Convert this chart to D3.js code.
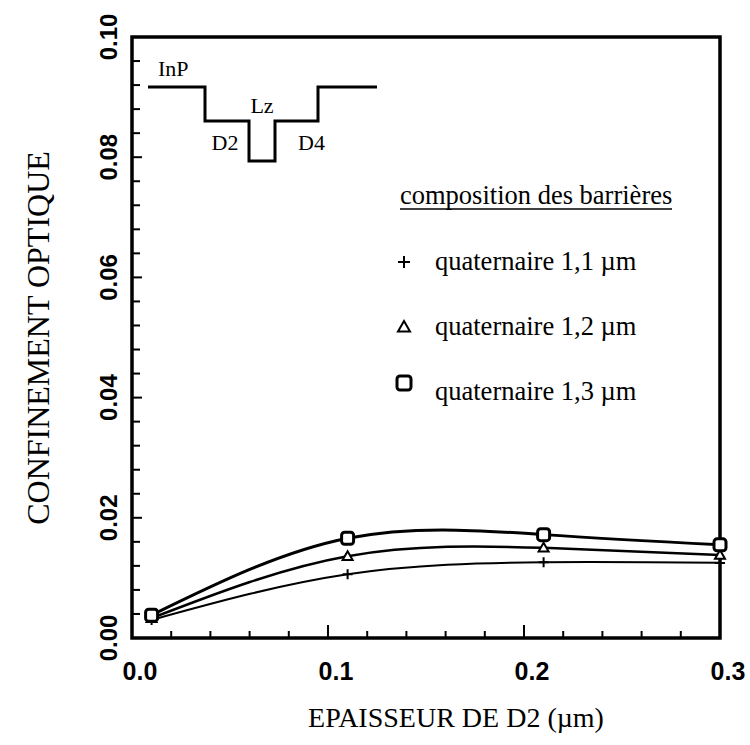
<!DOCTYPE html>
<html><head><meta charset="utf-8">
<script src="https://cdn.jsdelivr.net/npm/d3@7"></script>
<style>body{margin:0;background:#fff}svg{display:block}</style>
</head><body><div id="chart"></div>
<script>
// ---- data ----
const xValues = [0.01, 0.11, 0.21, 0.30];
const plusValues = [0.0030, 0.0106, 0.0126, 0.0125];      // quaternaire 1,1 µm
const triangleValues = [0.0033, 0.0136, 0.0150, 0.0138];  // quaternaire 1,2 µm
const squareValues = [0.0038, 0.0166, 0.0172, 0.0155];    // quaternaire 1,3 µm
const seriesNames = ["quaternaire 1,1 \u00b5m", "quaternaire 1,2 \u00b5m", "quaternaire 1,3 \u00b5m"];
const seriesSymbols = ["plus", "triangle", "square"];
const xTickValues = [0.0, 0.1, 0.2, 0.3];
const xTickLabels = ["0.0", "0.1", "0.2", "0.3"];
const yTickValues = [0.00, 0.02, 0.04, 0.06, 0.08, 0.10];
const yTickLabels = ["0.00", "0.02", "0.04", "0.06", "0.08", "0.10"];
const legendTitle = "composition des barri\u00e8res";
const xTitle = "EPAISSEUR DE D2 (\u00b5m)";
const yTitle = "CONFINEMENT OPTIQUE";
// inset band profile: layer boundaries (arbitrary thickness units) and levels
const insetBounds = [0, 57, 101, 127, 170, 229];
const insetLevels = [74, 40, 0, 40, 74];
const insetLabels = ["InP", "D2", "Lz", "D4"];

// ---- layout ----
const W = 750, H = 745;
const L = 132, R = 720, T = 37, B = 638;
const svg = d3.select("#chart").append("svg").attr("width", W).attr("height", H);
const x = d3.scaleLinear().domain([0, 0.3]).range([L, R]);
const y = d3.scaleLinear().domain([0, 0.1]).range([B, T]);
const serif = "'Liberation Serif', 'Times New Roman', serif";
const sans = "'Liberation Sans', Arial, sans-serif";

// frame
svg.append("rect").attr("x", L).attr("y", T).attr("width", R - L).attr("height", B - T)
  .attr("fill", "none").attr("stroke", "#000").attr("stroke-width", 3.5);

// x ticks (inward)
const xMinor = d3.range(0, 0.3001, 0.02);
svg.append("g").selectAll("line").data(xMinor).join("line")
  .attr("x1", d => x(d)).attr("x2", d => x(d))
  .attr("y1", B).attr("y2", d => B - (Math.abs(d * 10 - Math.round(d * 10)) < 1e-6 ? 13 : 7))
  .attr("stroke", "#000").attr("stroke-width", 2);
// y ticks (inward)
const yMinor = d3.range(0, 0.1001, 0.004);
svg.append("g").selectAll("line").data(yMinor).join("line")
  .attr("y1", d => y(d)).attr("y2", d => y(d))
  .attr("x1", L).attr("x2", d => L + (Math.abs(d * 50 - Math.round(d * 50)) < 1e-6 ? 10 : 8))
  .attr("stroke", "#000").attr("stroke-width", 2);

// tick labels
svg.append("g").selectAll("text").data(xTickValues).join("text")
  .attr("x", d => x(d) + 8).attr("y", 680).attr("text-anchor", "middle")
  .attr("font-family", sans).attr("font-weight", "bold").attr("font-size", 25)
  .text((d, i) => xTickLabels[i]);
svg.append("g").selectAll("text").data(yTickValues).join("text")
  .attr("transform", d => `translate(109,${y(d)}) rotate(-90)`)
  .attr("text-anchor", "middle").attr("dy", "0.35em")
  .attr("font-family", sans).attr("font-weight", "bold").attr("font-size", 24)
  .text((d, i) => yTickLabels[i]);

// axis titles
svg.append("text").attr("x", 456).attr("y", 727).attr("text-anchor", "middle")
  .attr("font-family", serif).attr("font-size", 28).text(xTitle);
svg.append("text").attr("transform", "translate(38,338) rotate(-90)")
  .attr("text-anchor", "middle").attr("dy", "0.35em")
  .attr("font-family", serif).attr("font-size", 32).text(yTitle);

// curves
const series = [plusValues, triangleValues, squareValues];
const widths = [2, 2.5, 3];
const line = d3.line().x(d => x(d[0])).y(d => y(d[1])).curve(d3.curveNatural);
series.forEach((vals, si) => {
  const pts = xValues.map((xv, i) => [xv, vals[i]]);
  svg.append("path").datum(pts).attr("d", line).attr("fill", "none")
    .attr("stroke", "#000").attr("stroke-width", widths[si]);
});

// markers
function drawSymbol(g, kind, cx, cy, size) {
  if (kind === "plus") {
    g.append("path").attr("d", `M${cx - size},${cy}H${cx + size}M${cx},${cy - size}V${cy + size}`)
      .attr("stroke", "#000").attr("stroke-width", 2);
  } else if (kind === "triangle") {
    const s = size;
    g.append("path").attr("d", `M${cx},${cy - s}L${cx + s},${cy + s * 0.75}L${cx - s},${cy + s * 0.75}Z`)
      .attr("fill", "#fff").attr("stroke", "#000").attr("stroke-width", 2);
  } else {
    g.append("rect").attr("x", cx - size).attr("y", cy - size).attr("width", 2 * size).attr("height", 2 * size)
      .attr("rx", 3).attr("fill", "#fff").attr("stroke", "#000").attr("stroke-width", 3);
  }
}
const mg = svg.append("g");
series.forEach((vals, si) => {
  xValues.forEach((xv, i) => {
    drawSymbol(mg, seriesSymbols[si], x(xv), y(vals[i]), si === 2 ? 6 : 5);
  });
});

// legend
svg.append("text").attr("x", 400).attr("y", 204).attr("font-family", serif).attr("font-size", 26.5)
  .text(legendTitle);
svg.append("line").attr("x1", 400).attr("x2", 672).attr("y1", 209).attr("y2", 209)
  .attr("stroke", "#000").attr("stroke-width", 1.5);
const legendY = [270, 335, 400];
const symY = [262, 327, 383];
seriesNames.forEach((name, i) => {
  drawSymbol(svg, seriesSymbols[i], 404, symY[i], i === 2 ? 7 : 6);
  svg.append("text").attr("x", 435).attr("y", legendY[i]).attr("font-family", serif).attr("font-size", 26.5)
    .text(name);
});

// inset band diagram
const ix = d3.scaleLinear().domain([0, 229]).range([148, 377]);
const iy = d3.scaleLinear().domain([0, 74]).range([161, 87]);
let dpath = "";
insetLevels.forEach((lv, i) => {
  const x0 = ix(insetBounds[i]), x1 = ix(insetBounds[i + 1]), yy = iy(lv);
  dpath += (i === 0 ? `M${x0},${yy}` : `V${yy}`) + `H${x1}`;
});
svg.append("path").attr("d", dpath).attr("fill", "none").attr("stroke", "#000").attr("stroke-width", 3);
// InP above first level, D2 below left barrier step, Lz above well, D4 below right barrier
const labelAnchors = [
  {x: ix(insetBounds[0] + 10), y: iy(insetLevels[0]) - 11, a: "start"},
  {x: ix((insetBounds[1] + insetBounds[2]) / 2) - 2, y: iy(insetLevels[1]) + 29, a: "middle"},
  {x: ix((insetBounds[2] + insetBounds[3]) / 2), y: iy(insetLevels[1]) - 8, a: "middle"},
  {x: ix((insetBounds[3] + insetBounds[4]) / 2) + 15, y: iy(insetLevels[3]) + 29, a: "middle"}
];
insetLabels.forEach((t, i) => {
  svg.append("text").attr("x", labelAnchors[i].x).attr("y", labelAnchors[i].y)
    .attr("text-anchor", labelAnchors[i].a).attr("font-family", serif).attr("font-size", 22).text(t);
});
</script></body></html>
